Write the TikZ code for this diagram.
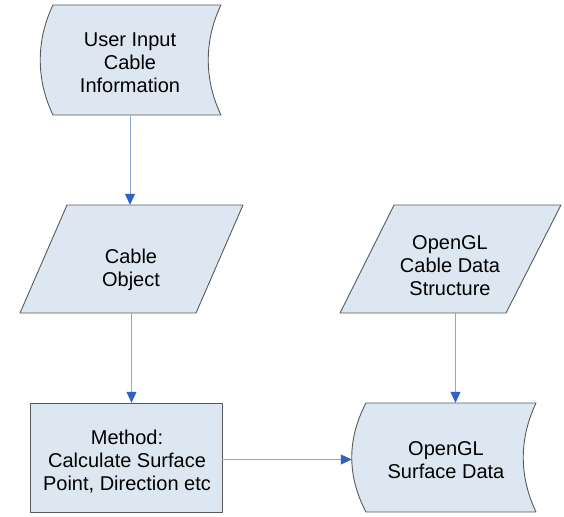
\documentclass[tikz,border=0pt]{standalone}
\usepackage{fontspec}
\setmainfont{Liberation Sans}
\usetikzlibrary{arrows.meta,calc}
\definecolor{boxfill}{HTML}{DDE7F1}
\definecolor{boxline}{HTML}{5A5A5A}
\definecolor{linkline}{HTML}{8AA8DA}
\definecolor{linkhead}{HTML}{2F62C8}
\tikzset{
  shapebox/.style={fill=boxfill,draw=boxline,line width=0.9pt,line join=round},
  anchorbox/.style={draw=none,inner sep=0pt},
  label text/.style={draw=none,inner sep=0pt,align=center,
    font=\fontsize{20}{23}\selectfont},
  link/.style={draw=linkline,line width=1pt,
    -{Triangle[length=11pt,width=10pt,color=linkhead]}}
}
\begin{document}
\begin{tikzpicture}[x=1pt,y=-1pt]
\useasboundingbox (0,0) rectangle (564,516);
% shapes
\draw[shapebox] (53,5) -- (221,5) .. controls (204,40) and (204,80) .. (221,115)
  -- (53,115) .. controls (36,80) and (36,40) .. cycle;
\draw[shapebox] (67,205) -- (243,205) -- (196,313) -- (20,313) -- cycle;
\draw[shapebox] (394,205) -- (561,205) -- (506,313) -- (340,313) -- cycle;
\draw[shapebox] (30,403) rectangle (222,512);
\draw[shapebox] (366,403) -- (536,403) .. controls (519,439) and (519,476) .. (536,512)
  -- (366,512) .. controls (347,476) and (347,439) .. cycle;
% shape anchors
\node[anchorbox,minimum width=180pt,minimum height=110pt] (s1) at (130,60) {};
\node[anchorbox,minimum width=223pt,minimum height=108pt] (p1) at (131.5,259) {};
\node[anchorbox,minimum width=221pt,minimum height=108pt] (p2) at (450.5,259) {};
\node[anchorbox,minimum width=192pt,minimum height=109pt] (m) at (126,457.5) {};
\node[anchorbox,minimum width=184pt,minimum height=109pt] (s2) at (444,457.5) {};
% texts
\node[label text] (t1) at (130,63) {User Input\\Cable\\Information};
\node[label text] (t2) at (131,270) {Cable\\Object};
\node[label text] (t3) at (450,266) {OpenGL\\Cable Data\\Structure};
\node[label text] (t4) at (127,462) {Method:\\Calculate Surface\\Point, Direction etc};
\node[label text] (t5) at (446,460) {OpenGL\\Surface Data};
% connectors
\draw[link] (s1.south) -- (p1.north -| s1.south);
\draw[link] (p1.south) -- (m.north -| p1.south);
\coordinate (a2) at ($(p2.south)+(5,0)$);
\draw[link] (a2) -- (a2 |- s2.north);
\coordinate (a3) at ($(m.east)+(0,2)$);
\draw[link] (a3) -- (a3 -| s2.west);
\end{tikzpicture}
\end{document}
